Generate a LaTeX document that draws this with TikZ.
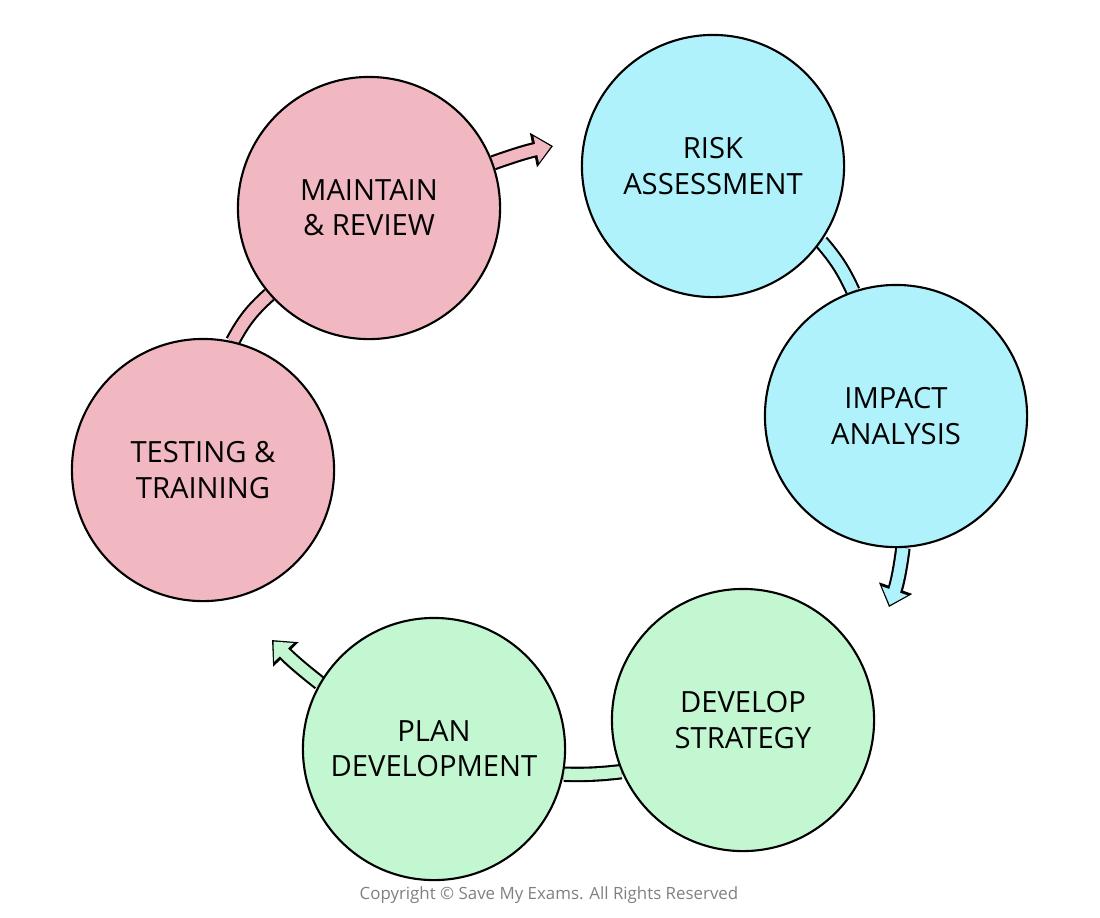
\documentclass[tikz,border=0pt]{standalone}
\usepackage{fontspec}
\setmainfont{Open Sans}
\usetikzlibrary{arrows.meta, backgrounds}
\definecolor{pinkish}{HTML}{F2B8C2}
\definecolor{cyanish}{HTML}{B0F2FC}
\definecolor{greenish}{HTML}{C2F7D2}
\tikzset{
	stage/.style={circle, draw=black, line width=0.6pt, minimum size=2.62cm, inner sep=0pt, align=center, font=\fontsize{8.3}{10}\selectfont},
	band/.style={line width=4.4pt, draw=black},
	bandin/.style={line width=3.2pt, draw=#1},
	tipout/.style={-{Triangle[length=0.2cm,width=0.34cm]}},
	tipin/.style={-{Triangle[length=0.15cm,width=0.26cm]}, shorten >=0.6pt}
}
\begin{document}
\begin{tikzpicture}[x=0.01cm, y=-0.01cm]
	\useasboundingbox (0,0) rectangle (1100,917);

	\node [stage, fill=cyanish] (risk) at (713,166) {RISK\\ASSESSMENT};
	\node [stage, fill=cyanish] (impact) at (896,416) {IMPACT\\ANALYSIS};
	\node [stage, fill=greenish] (strat) at (743,720) {DEVELOP\\STRATEGY};
	\node [stage, fill=greenish] (plan) at (434,749) {PLAN\\DEVELOPMENT};
	\node [stage, fill=pinkish] (test) at (203,470) {TESTING \&\\TRAINING};
	\node [stage, fill=pinkish] (maint) at (369,208) {MAINTAIN\\\& REVIEW};

	\coordinate (tipA) at (553,146);
	\coordinate (tipB) at (889,607);
	\coordinate (tipC) at (272,640);

	\node [text=gray, font=\fontsize{4.8}{6}\selectfont] (copy) at (549,895) {Copyright © Save My Exams. All Rights Reserved};

	\begin{scope}[on background layer]
		% arrows with heads
		\draw [band, tipout] (maint.20) to [bend left=4] (tipA);
		\draw [bandin=pinkish, tipin, fill=pinkish] (maint.20) to [bend left=4] (tipA);
		\draw [band, tipout] (impact.-87) to [bend left=6] (tipB);
		\draw [bandin=cyanish, tipin, fill=cyanish] (impact.-87) to [bend left=6] (tipB);
		\draw [band, tipout] (plan.150) to [bend left=4] (tipC);
		\draw [bandin=greenish, tipin, fill=greenish] (plan.150) to [bend left=4] (tipC);
		% plain bands
		\draw [band] (risk.-35) to [bend left=8] (impact.109);
		\draw [bandin=cyanish] (risk.-35) to [bend left=8] (impact.109);
		\draw [band] (strat.-157) to [bend left=4] (plan.-11);
		\draw [bandin=greenish] (strat.-157) to [bend left=4] (plan.-11);
		\draw [band] (test.77) to [bend left=10] (maint.221);
		\draw [bandin=pinkish] (test.77) to [bend left=10] (maint.221);
	\end{scope}
\end{tikzpicture}
\end{document}
